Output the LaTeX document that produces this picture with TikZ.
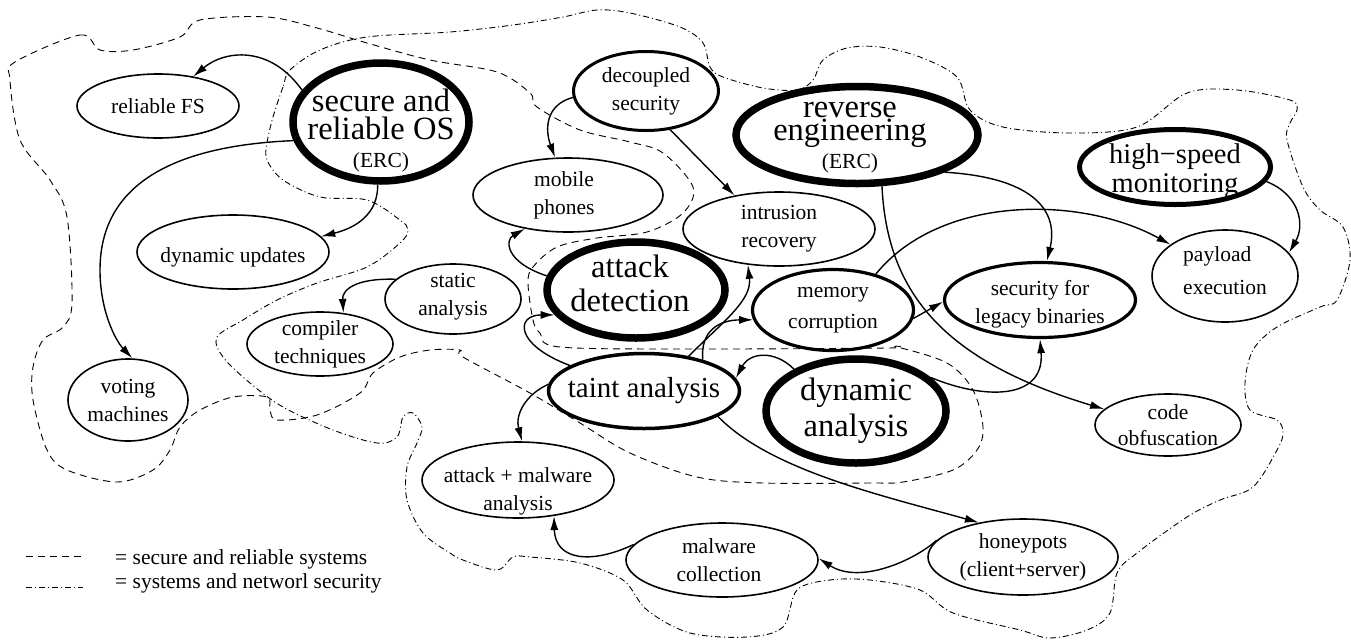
\documentclass[tikz,border=0pt]{standalone}
\usepackage{fontspec}
\setmainfont{Liberation Serif}
\usetikzlibrary{shapes.geometric,arrows.meta}

\begin{document}
\begin{tikzpicture}[x=1pt, y=-1pt, >={Latex[length=14pt,width=8pt]},
  bub/.style={draw, ellipse, inner sep=0pt, line width=1.6pt},
  mid/.style={bub, line width=3.2pt},
  fat/.style={bub, line width=7.5pt},
  txt/.style={font=\fontsize{21.5}{28}\selectfont, align=center, inner sep=0pt},
  big/.style={font=\fontsize{32.5}{28}\selectfont, align=center, inner sep=0pt},
  link/.style={->, line width=1.4pt},
  srs/.style={dash pattern=on 7pt off 5pt, line width=0.9pt},
  sns/.style={dash pattern=on 6pt off 3pt on 1pt off 3pt, line width=0.9pt}]
\useasboundingbox (0,0) rectangle (1351,641);

% research areas
\node[bub, minimum width=162, minimum height=64, label={[txt]center:reliable FS}] (fs) at (158,106) {};
\node[fat, minimum width=176, minimum height=118, label={[big, yshift=-9pt]center:{secure and\\reliable OS\\{\fontsize{21.5}{28}\selectfont(ERC)}}}] (os) at (381,122) {};
\node[bub, minimum width=192, minimum height=74, label={[txt, yshift=-5pt]center:dynamic updates}] (du) at (233,252) {};
\node[bub, minimum width=120, minimum height=82, label={[txt]center:{voting\\machines}}] (vm) at (128,400) {};
\node[bub, minimum width=146, minimum height=64, label={[txt]center:{compiler\\techniques}}] (ct) at (320,344) {};
\node[bub, minimum width=136, minimum height=70, label={[txt, yshift=2pt]center:{static\\analysis}}] (sa) at (453,299) {};
\node[mid, line width=3pt, minimum width=145, minimum height=79, label={[txt]center:{decoupled\\security}}] (dec) at (646,91) {};
\node[bub, minimum width=190, minimum height=74, label={[txt, xshift=-4pt]center:{mobile\\phones}}] (mob) at (568,195) {};
\node[fat, minimum width=178, minimum height=96, label={[big, xshift=-6pt, yshift=7pt]center:{attack\\[6pt]detection}}] (ad) at (636,290) {};
\node[bub, minimum width=192, minimum height=74, label={[txt]center:{intrusion\\recovery}}] (ir) at (779,229) {};
\node[fat, minimum width=242, minimum height=97, label={[big, xshift=-7pt, yshift=-3pt]center:{reverse\\[-5pt]engineering\\{\fontsize{21.5}{28}\selectfont(ERC)}}}] (re) at (857,135) {};
\node[bub, line width=5pt, minimum width=191, minimum height=75, label={[txt, font=\fontsize{28.5}{29}\selectfont, yshift=-4pt]center:{high−speed\\monitoring}}] (hs) at (1175,167) {};
\node[bub, minimum width=146, minimum height=92, label={[txt, align=left, yshift=5pt]center:{payload\\[5pt]execution}}] (pe) at (1225,276) {};
\node[mid, minimum width=191, minimum height=75, label={[txt, yshift=-4pt]center:{security for\\legacy binaries}}] (lb) at (1040,300) {};
\node[mid, minimum width=161, minimum height=81, label={[txt]center:{memory\\[3pt]corruption}}] (mc) at (833,310) {};
\node[mid, line width=3.5pt, minimum width=191, minimum height=75, label={[txt, font=\fontsize{29}{30}\selectfont]center:taint analysis}] (ta) at (644,391) {};
\node[fat, minimum width=180, minimum height=104, label={[big]center:{dynamic\\[5pt]analysis}}] (da) at (856,411) {};
\node[bub, minimum width=146, minimum height=62, label={[txt]center:{code\\[-2pt]obfuscation}}] (co) at (1168,425) {};
\node[bub, minimum width=192, minimum height=76, label={[txt, yshift=-11pt]center:{attack + malware\\analysis}}] (am) at (518,480) {};
\node[bub, minimum width=192, minimum height=74, label={[txt, xshift=-3pt]center:{malware\\collection}}] (mwc) at (722,560) {};
\node[bub, minimum width=190, minimum height=76, label={[txt]center:{honeypots\\(client+server)}}] (hp) at (1023,557) {};

% how the areas feed each other
\draw[link] (os.158) .. controls (270,45) and (225,50) .. (fs.40);
\draw[link] (os.192) .. controls (190,145) and (100,175) .. (100,270) .. controls (100,310) and (115,340) .. (vm.84);
\draw[link] (os.267) .. controls (378,215) and (355,228) .. (du.10);
\draw[link] (sa.161) .. controls (355,278) and (342,290) .. (ct.53);
\draw[link] (dec.185) .. controls (545,105) and (545,130) .. (mob.109);
\draw[link] (dec.302) -- (ir.143);
\draw[link] (ad.171) .. controls (505,262) and (505,240) .. (mob.218);
\draw[link] (ta.161) .. controls (515,345) and (515,315) .. (ad.197);
\draw[link] (ta.38) .. controls (725,320) and (752,300) .. (ir.229);
\draw[link] (ta.28) .. controls (700,330) and (720,320) .. (mc.187);
\draw[link] (da.146) .. controls (775,350) and (750,352) .. (ta.8);
\draw[link] (ta.176) .. controls (525,395) and (515,415) .. (am.84);
\draw[link] (ta.341) .. controls (770,470) and (880,495) .. (hp.142);
\draw[link] (hp.169) .. controls (915,560) and (860,585) .. (mwc.1);
\draw[link] (mwc.170) .. controls (590,565) and (555,560) .. (am.315);
\draw[link] (mc.354) -- (lb.181);
\draw[link] (mc.40) .. controls (940,195) and (1080,195) .. (pe.150);
\draw[link] (da.24) .. controls (985,400) and (1045,400) .. (lb.270);
\draw[link] (re.337) .. controls (1040,178) and (1058,215) .. (lb.80);
\draw[link] (re.296) .. controls (887,290) and (940,360) .. (co.166);
\draw[link] (hs.351) .. controls (1300,195) and (1305,225) .. (pe.20);

% secure and reliable systems
\draw[srs] plot[smooth cycle, tension=0.55] coordinates {(15,62) (80,35) (100,50) (133,50) (180,37) (200,20) (267,17) (317,28) (367,43) (430,60) (497,72) (530,93) (537,107) (580,130) (630,142) (663,153) (693,187) (683,213) (647,232) (597,238) (557,247) (533,267) (528,283) (533,320) (540,333) (560,347) (700,349) (887,348) (897,347) (947,363) (973,390) (983,427) (977,450) (953,470) (903,482) (870,483) (763,483) (697,477) (630,453) (580,423) (530,393) (463,357) (460,350) (430,350) (400,357) (373,373) (360,393) (317,415) (277,420) (270,410) (267,397) (233,397) (200,410) (180,427) (170,450) (153,470) (117,482) (67,470) (47,450) (33,400) (33,367) (43,340) (63,327) (72,303) (67,217) (50,180) (20,140) (10,80)};
% systems and network security
\draw[sns] plot[smooth cycle, tension=0.55] coordinates {(290,70) (283,87) (273,117) (267,143) (267,160) (283,180) (320,197) (367,200) (400,220) (408,230) (400,243) (367,267) (317,283) (277,300) (243,320) (217,337) (223,357) (250,383) (283,407) (333,430) (377,443) (397,437) (403,417) (413,413) (422,427) (417,443) (407,467) (407,500) (423,533) (450,553) (463,560) (497,570) (513,557) (530,557) (580,563) (623,580) (647,610) (690,633) (747,637) (783,627) (797,590) (830,580) (870,580) (920,590) (953,613) (1020,630) (1050,638) (1087,630) (1110,613) (1117,573) (1137,553) (1187,517) (1220,500) (1253,487) (1277,450) (1283,433) (1277,420) (1250,410) (1245,383) (1253,350) (1277,327) (1320,307) (1337,300) (1350,260) (1343,227) (1320,210) (1303,187) (1287,140) (1290,123) (1297,110) (1290,100) (1237,90) (1187,93) (1137,127) (1070,133) (1003,127) (970,110) (957,77) (920,57) (880,47) (847,48) (823,60) (813,80) (797,90) (763,88) (723,77) (710,67) (703,43) (680,27) (630,13) (597,10) (563,17) (513,25) (450,32) (367,37) (320,50)};

% legend
\draw[srs] (26,556) -- (83,556);
\draw[sns] (26,587) -- (83,587);
\node[txt, anchor=base west] (key1) at (115,564) {= secure and reliable systems};
\node[txt, anchor=base west] (key2) at (115,588) {= systems and networl security};
\end{tikzpicture}
\end{document}
